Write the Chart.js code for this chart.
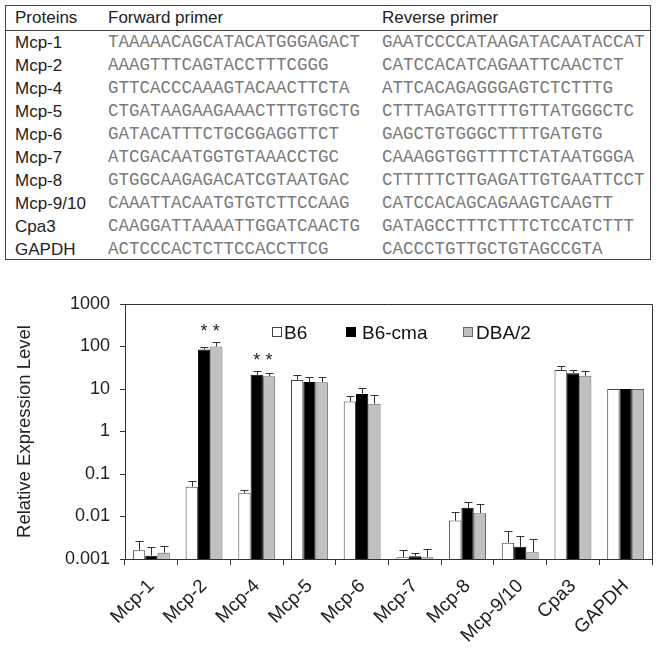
<!DOCTYPE html>
<html>
<head>
<meta charset="utf-8">
<script src="https://cdn.jsdelivr.net/npm/chart.js@4"></script>
<style>
  html, body { margin: 0; padding: 0; background: #fff; }
  body { width: 658px; height: 648px; position: relative; overflow: hidden; font-family: "Liberation Sans", Arial, sans-serif; }
  #tbl { position: absolute; left: 5px; top: 5px; width: 646px; height: 255px; border: 1px solid #444; box-sizing: border-box; }
  #tbl .row { position: absolute; left: 0; right: 0; white-space: nowrap; }
  #tbl .hdr { top: 0; height: 24px; border-bottom: 1px solid #444; }
  #tbl span { position: absolute; top: 0; }
  #tbl .name { left: 9px; font-size: 17px; color: #222; }
  #tbl .seq { font-family: "Liberation Mono", "Courier New", monospace; font-size: 17.5px; color: #7a7a7a; }
  #tbl .fwd { left: 102px; }
  #tbl .rev { left: 376px; }
  #wrap { position: absolute; left: 0; top: 280px; width: 658px; height: 368px; }
</style>
</head>
<body>
<div id="tbl"></div>
<div id="wrap"><canvas id="chart" width="658" height="368"></canvas></div>
<script>
// ----- table data -----
const tableHeader = ['Proteins', 'Forward primer', 'Reverse primer'];
const proteins = ['Mcp-1', 'Mcp-2', 'Mcp-4', 'Mcp-5', 'Mcp-6', 'Mcp-7', 'Mcp-8', 'Mcp-9/10', 'Cpa3', 'GAPDH'];
const forwardPrimers = [
  'TAAAAACAGCATACATGGGAGACT', 'AAAGTTTCAGTACCTTTCGGG', 'GTTCACCCAAAGTACAACTTCTA',
  'CTGATAAGAAGAAACTTTGTGCTG', 'GATACATTTCTGCGGAGGTTCT', 'ATCGACAATGGTGTAAACCTGC',
  'GTGGCAAGAGACATCGTAATGAC', 'CAAATTACAATGTGTCTTCCAAG', 'CAAGGATTAAAATTGGATCAACTG',
  'ACTCCCACTCTTCCACCTTCG'
];
const reversePrimers = [
  'GAATCCCCATAAGATACAATACCAT', 'CATCCACATCAGAATTCAACTCT', 'ATTCACAGAGGGAGTCTCTTTG',
  'CTTTAGATGTTTTGTTATGGGCTC', 'GAGCTGTGGGCTTTTGATGTG', 'CAAAGGTGGTTTTCTATAATGGGA',
  'CTTTTTCTTGAGATTGTGAATTCCT', 'CATCCACAGCAGAAGTCAAGTT', 'GATAGCCTTTCTTTCTCCATCTTT',
  'CACCCTGTTGCTGTAGCCGTA'
];

// ----- chart data -----
const categories = ['Mcp-1', 'Mcp-2', 'Mcp-4', 'Mcp-5', 'Mcp-6', 'Mcp-7', 'Mcp-8', 'Mcp-9/10', 'Cpa3', 'GAPDH'];
const b6      = [0.0016, 0.05,  0.036, 16.3, 5.1, 0.0011,  0.008, 0.0024,  28,   10];
const b6Cma   = [0.0012, 85,    21.5,  14.6, 7.6, 0.00116, 0.016, 0.00195, 23.5, 10];
const dba2    = [0.0014, 100,   20,    14.5, 4.5, 0.0011,  0.012, 0.00144, 20.5, 10];
// top of each error bar
const b6Hi    = [0.0026, 0.068, 0.041, 21,   6.9,  0.0016,  0.013, 0.0046, 35, null];
const b6CmaHi = [0.0019, 97,    27,    19.5, 10.7, 0.00136, 0.022, 0.0034, 28, null];
const dba2Hi  = [0.002,  125,   24,    19.5, 7.3,  0.0017,  0.020, 0.0029, 27, null];
const yTicks = [0.001, 0.01, 0.1, 1, 10, 100, 1000];
const yTickLabels = ['0.001', '0.01', '0.1', '1', '10', '100', '1000'];
// [category index, dataset index] marked with an asterisk
const starred = [[1, 1], [1, 2], [2, 1], [2, 2]];

const FONT = '"Liberation Sans", Arial, sans-serif';

// ----- build table -----
const tbl = document.getElementById('tbl');
function addRow(cells, top, h, cls) {
  const r = document.createElement('div');
  r.className = 'row' + (cls ? ' ' + cls : '');
  r.style.top = top + 'px'; r.style.height = h + 'px'; r.style.lineHeight = h + 'px';
  const [a, b, c] = cells;
  r.innerHTML = `<span class="name">${a}</span><span class="${cls ? 'name' : 'seq'} fwd">${b}</span><span class="${cls ? 'name' : 'seq'} rev">${c}</span>`;
  if (cls) r.querySelectorAll('span').forEach(s => { s.style.lineHeight = h + 'px'; });
  tbl.appendChild(r);
}
addRow(tableHeader, 0, 24, 'hdr');
proteins.forEach((p, i) => addRow([p, forwardPrimers[i], reversePrimers[i]], 25 + i * 23, 23));

// ----- plugins -----
const frame = {
  id: 'frame',
  afterDraw(chart) {
    const { ctx, chartArea: a } = chart;
    ctx.save();
    ctx.strokeStyle = '#333'; ctx.lineWidth = 1;
    ctx.beginPath();
    ctx.moveTo(Math.round(a.left), Math.round(a.top) + 0.5);
    ctx.lineTo(Math.round(a.right) + 0.5, Math.round(a.top) + 0.5);
    ctx.lineTo(Math.round(a.right) + 0.5, Math.round(a.bottom));
    ctx.stroke();
    ctx.restore();
  }
};

const errorBars = {
  id: 'errorBars',
  afterDatasetsDraw(chart) {
    const { ctx } = chart; const y = chart.scales.y;
    ctx.save();
    ctx.strokeStyle = '#333'; ctx.lineWidth = 1;
    chart.data.datasets.forEach((ds, i) => {
      chart.getDatasetMeta(i).data.forEach((bar, j) => {
        const hi = ds.errHigh[j];
        if (hi == null) return;
        const x = Math.round(bar.x) + 0.5;
        const yHi = Math.round(y.getPixelForValue(hi)) + 0.5;
        ctx.beginPath();
        ctx.moveTo(x, bar.y); ctx.lineTo(x, yHi);
        ctx.moveTo(x - 4, yHi); ctx.lineTo(x + 4, yHi);
        ctx.stroke();
      });
    });
    ctx.restore();
  }
};

const stars = {
  id: 'stars',
  afterDatasetsDraw(chart) {
    const { ctx } = chart; const y = chart.scales.y;
    ctx.save();
    ctx.fillStyle = '#222'; ctx.font = '18px ' + FONT;
    ctx.textAlign = 'center'; ctx.textBaseline = 'alphabetic';
    const groups = {};
    starred.forEach(([c, d]) => {
      const top = y.getPixelForValue(chart.data.datasets[d].errHigh[c]);
      groups[c] = Math.min(groups[c] ?? Infinity, top);
    });
    starred.forEach(([c, d]) => {
      const bar = chart.getDatasetMeta(d).data[c];
      ctx.fillText('*', bar.x, groups[c] - 5);
    });
    ctx.restore();
  }
};

// legend sits inside the plot, under the top frame
const legendBoxX = [272, 346, 463];
const legendTextX = [284, 362, 476];
const boxLegend = {
  id: 'boxLegend',
  afterDraw(chart) {
    const { ctx, chartArea: a } = chart;
    ctx.save();
    ctx.font = '19px ' + FONT; ctx.textBaseline = 'middle';
    const yc = a.top + 29;
    chart.data.datasets.forEach((ds, i) => {
      ctx.fillStyle = ds.backgroundColor; ctx.strokeStyle = ds.borderColor; ctx.lineWidth = 1;
      ctx.fillRect(legendBoxX[i] + 0.5, yc - 5.5, 9, 9);
      ctx.strokeRect(legendBoxX[i] + 0.5, yc - 5.5, 9, 9);
      ctx.fillStyle = '#111';
      ctx.fillText(ds.label, legendTextX[i], yc + 1);
    });
    ctx.restore();
  }
};

// ----- chart -----
new Chart(document.getElementById('chart'), {
  type: 'bar',
  data: {
    labels: categories,
    datasets: [
      { label: 'B6', data: b6, errHigh: b6Hi, backgroundColor: '#ffffff', borderColor: '#444444', borderWidth: 1 },
      { label: 'B6-cma', data: b6Cma, errHigh: b6CmaHi, backgroundColor: '#000000', borderColor: '#000000', borderWidth: 1 },
      { label: 'DBA/2', data: dba2, errHigh: dba2Hi, backgroundColor: '#c0c0c0', borderColor: '#666666', borderWidth: 1 }
    ]
  },
  options: {
    responsive: false, animation: false, devicePixelRatio: 1,
    categoryPercentage: 0.7, barPercentage: 1,
    layout: { padding: { top: 24, right: 6, left: 0, bottom: 0 } },
    plugins: { legend: { display: false }, tooltip: { enabled: false } },
    scales: {
      x: {
        offset: true,
        grid: { offset: true, drawOnChartArea: false, color: '#333', tickLength: 6 },
        border: { color: '#333' },
        ticks: { color: '#222', font: { size: 19, family: FONT }, minRotation: 45, maxRotation: 45, autoSkip: false, padding: 10 },
        afterFit: (s) => { s.height = 89; }
      },
      y: {
        type: 'logarithmic', min: 0.001, max: 1000,
        afterBuildTicks: (s) => { s.ticks = yTicks.map(v => ({ value: v })); },
        grid: { drawOnChartArea: false, color: '#333', tickLength: 5 },
        border: { color: '#333' },
        ticks: { color: '#222', font: { size: 18, family: FONT }, padding: 10,
                 callback: (v) => { const i = yTicks.indexOf(v); return i >= 0 ? yTickLabels[i] : null; } },
        title: { display: true, text: 'Relative Expression Level', color: '#222', font: { size: 18.5, family: FONT }, padding: { top: 14, bottom: 0 } },
        afterFit: (s) => { s.width = 125; }
      }
    }
  },
  plugins: [errorBars, stars, frame, boxLegend]
});
</script>
</body>
</html>
